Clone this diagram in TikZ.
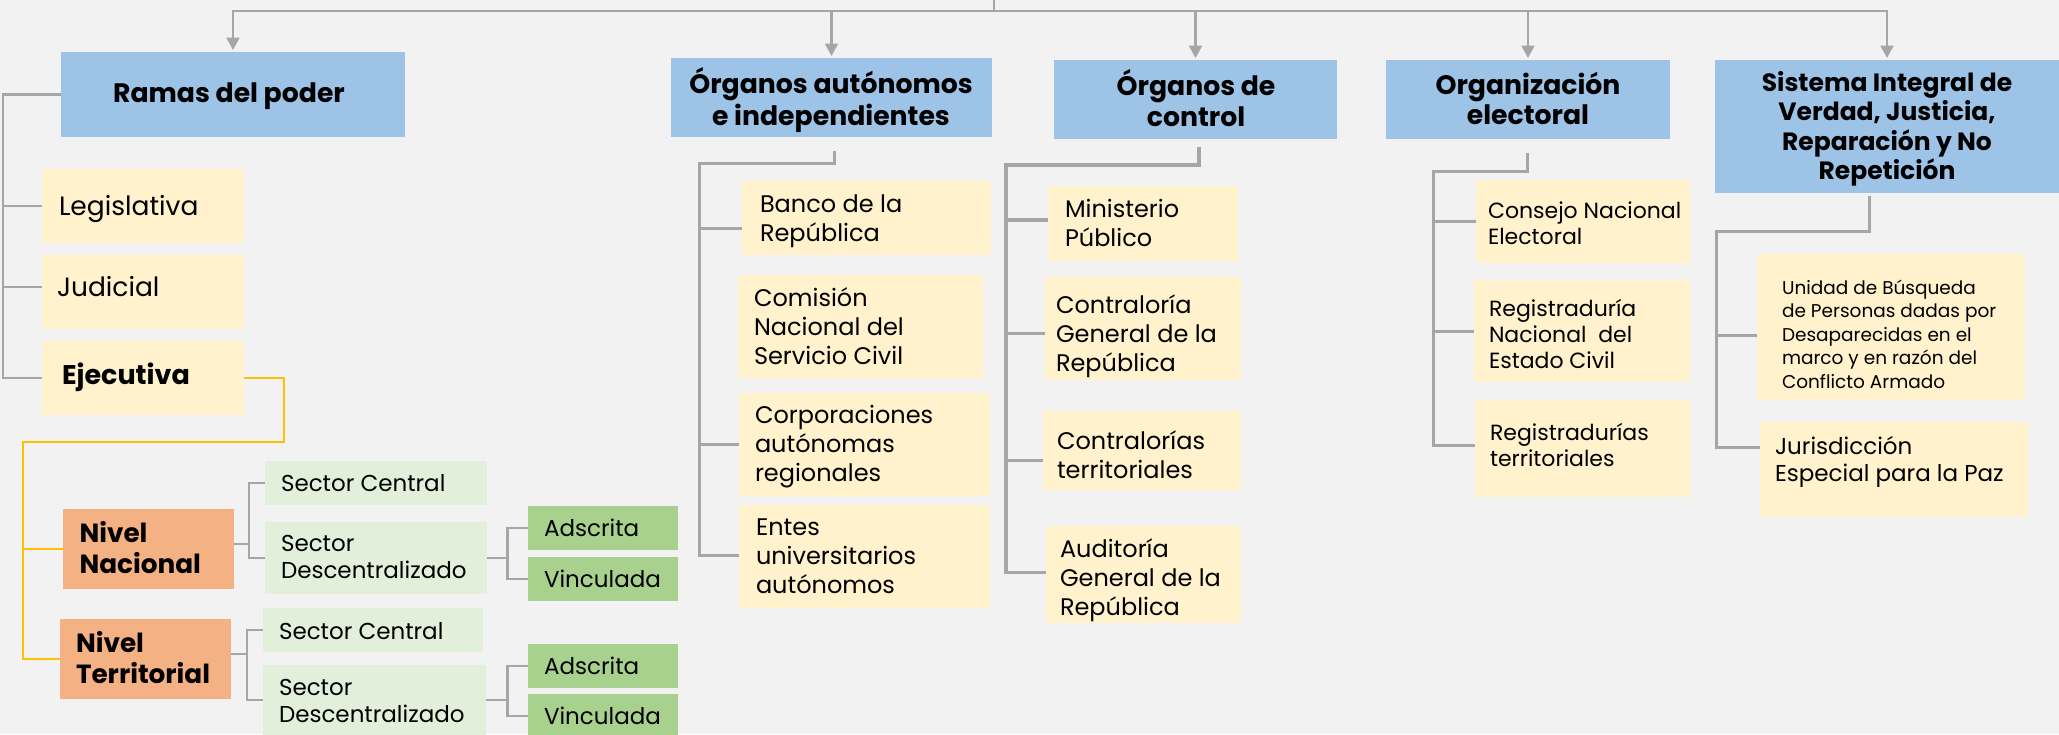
\documentclass[tikz,border=0pt]{standalone}
\usepackage{fontspec}
\setmainfont{Poppins}
\usetikzlibrary{arrows.meta}
\definecolor{bg}{HTML}{F2F2F2}
\definecolor{hblue}{HTML}{9DC3E6}
\definecolor{cream}{HTML}{FFF2CC}
\definecolor{orng}{HTML}{F4B183}
\definecolor{lgreen}{HTML}{E2EFDA}
\definecolor{mgreen}{HTML}{A9D18E}
\definecolor{lgray}{HTML}{A6A6A6}
\definecolor{gold}{HTML}{FFC000}
\begin{document}
\begin{tikzpicture}[x=1pt,y=-1pt,
  bx/.style={inner sep=0pt, outer sep=0pt, anchor=north west, draw=none},
  hbox/.style={bx, fill=hblue},
  cbox/.style={bx, fill=cream},
  obox/.style={bx, fill=orng},
  lgbox/.style={bx, fill=lgreen},
  mgbox/.style={bx, fill=mgreen},
  tx/.style={inner sep=0pt, outer sep=0pt, anchor=west, align=left, yshift=-3.5pt, execute at begin node=\strut, execute at end node=\strut},
  th/.style={inner sep=0pt, outer sep=0pt, anchor=center, align=center, yshift=-3pt, font={\fontsize{26.7}{30}\selectfont\bfseries}, execute at begin node=\strut, execute at end node=\strut},
  fbig/.style={font={\fontsize{24}{29}\selectfont}},
  flarge/.style={font={\fontsize{26.5}{31}\selectfont}},
  fbold/.style={font={\fontsize{26.3}{31}\selectfont\bfseries}},
  fmid/.style={font={\fontsize{23}{27}\selectfont}},
  fsm/.style={font={\fontsize{22}{26}\selectfont}},
  ftiny/.style={font={\fontsize{18.5}{23.6}\selectfont}},
  conn/.style={draw=lgray, line width=2.2pt},
  connb/.style={draw=lgray, line width=3pt},
  connc/.style={draw=lgray, line width=3.5pt},
  yel/.style={draw=gold, line width=2.8pt},
  arr/.style={draw=lgray, line width=2.2pt, -{Triangle[width=13pt,length=12.5pt]}}
]
\useasboundingbox (0,0) rectangle (2059,734);
\clip (0,0) rectangle (2059,734);
\fill[bg] (0,0) rectangle (2059,734);

% ---------- header boxes
\node[hbox, minimum width=344pt, minimum height=85pt] (ramas) at (61,52) {};
\node[hbox, minimum width=321pt, minimum height=79pt] (oa) at (671,58) {};
\node[hbox, minimum width=283pt, minimum height=79pt] (oc) at (1054,60) {};
\node[hbox, minimum width=284pt, minimum height=79pt] (org) at (1386,60) {};
\node[hbox, minimum width=344pt, minimum height=133pt] (sis) at (1715,60) {};

\node[th] (tramas) at (229,93) {Ramas del poder};
\node[th, font={\fontsize{26.7}{32}\selectfont\bfseries}] (toa) at (831,98) {Órganos autónomos\\e independientes};
\node[th, font={\fontsize{26.7}{31}\selectfont\bfseries}] (toc) at (1196,99.5) {Órganos de\\control};
\node[th] (torg) at (1528,100) {Organización\\electoral};
\node[th, font={\fontsize{25}{29.3}\selectfont\bfseries}] (tsis) at (1887,127) {Sistema Integral de\\Verdad, Justicia,\\Reparación y No\\Repetición};

% ---------- Ramas del poder
\node[cbox, minimum width=202pt, minimum height=74pt] (leg) at (42,169) {};
\node[cbox, minimum width=202pt, minimum height=74pt] (jud) at (42,255) {};
\node[cbox, minimum width=202pt, minimum height=74pt] (eje) at (42,341) {};
\node[tx, flarge] (tleg) at (59,206) {Legislativa};
\node[tx, flarge] (tjud) at (57,287) {Judicial};
\node[tx, font={\fontsize{27}{31}\selectfont\bfseries}] (teje) at (62,375) {Ejecutiva};

\node[obox, minimum width=171pt, minimum height=80pt] (nn) at (63,509) {};
\node[obox, minimum width=171pt, minimum height=80pt] (nt) at (60,619) {};
\node[tx, fbold] (tnn) at (79.5,548.5) {Nivel\\Nacional};
\node[tx, fbold] (tnt) at (76,658.5) {Nivel\\Territorial};

\node[lgbox, minimum width=222pt, minimum height=44pt] (sc1) at (265,461) {};
\node[lgbox, minimum width=222pt, minimum height=72pt] (sd1) at (265,522) {};
\node[lgbox, minimum width=220pt, minimum height=44pt] (sc2) at (263,608) {};
\node[lgbox, minimum width=223pt, minimum height=70pt] (sd2) at (263,665) {};
\node[mgbox, minimum width=150pt, minimum height=44pt] (ads1) at (528,506) {};
\node[mgbox, minimum width=150pt, minimum height=44pt] (vin1) at (528,557) {};
\node[mgbox, minimum width=150pt, minimum height=44pt] (ads2) at (528,644) {};
\node[mgbox, minimum width=150pt, minimum height=44pt] (vin2) at (528,694) {};
\node[tx, fmid] (tsc1) at (281,483) {Sector Central};
\node[tx, fmid] (tsd1) at (281,557.5) {Sector\\Descentralizado};
\node[tx, fmid] (tsc2) at (279,631) {Sector Central};
\node[tx, fmid] (tsd2) at (279,701.5) {Sector\\Descentralizado};
\node[tx, fmid] (tads1) at (544,528) {Adscrita};
\node[tx, fmid] (tvin1) at (544,579) {Vinculada};
\node[tx, fmid] (tads2) at (544,666) {Adscrita};
\node[tx, fmid] (tvin2) at (544,716) {Vinculada};

% ---------- Organos autonomos
\node[cbox, minimum width=249pt, minimum height=74pt] (banco) at (742,181) {};
\node[cbox, minimum width=245pt, minimum height=103pt] (cnsc) at (738,275) {};
\node[cbox, minimum width=251pt, minimum height=103pt] (corp) at (739,393) {};
\node[cbox, minimum width=251pt, minimum height=103pt] (entes) at (739,505) {};
\node[tx, fbig] (tbanco) at (760,218.5) {Banco de la\\República};
\node[tx, fbig] (tcnsc) at (754,327) {Comisión\\Nacional del\\Servicio Civil};
\node[tx, fbig] (tcorp) at (755,444.5) {Corporaciones\\autónomas\\regionales};
\node[tx, fbig] (tentes) at (756,556.5) {Entes\\universitarios\\autónomos};

% ---------- Organos de control
\node[cbox, minimum width=190pt, minimum height=75pt] (min) at (1048,186) {};
\node[cbox, minimum width=196pt, minimum height=103pt] (cgr) at (1045,277) {};
\node[cbox, minimum width=198pt, minimum height=79pt] (cts) at (1043,411) {};
\node[cbox, minimum width=195pt, minimum height=97pt] (agr) at (1046,526) {};
\node[tx, fbig] (tmin) at (1065,223.5) {Ministerio\\Público};
\node[tx, fbig] (tcgr) at (1056,333.5) {Contraloría\\General de la\\República};
\node[tx, fbig] (tcts) at (1057,455) {Contralorías\\territoriales};
\node[tx, fbig] (tagr) at (1060,577.5) {Auditoría\\General de la\\República};

% ---------- Organizacion electoral
\node[cbox, minimum width=214pt, minimum height=83pt] (cne) at (1476,180) {};
\node[cbox, minimum width=216pt, minimum height=102pt] (rnec) at (1474,280) {};
\node[cbox, minimum width=215pt, minimum height=97pt] (rterr) at (1475,400) {};
\node[tx, fsm] (tcne) at (1488,224) {Consejo Nacional\\Electoral};
\node[tx, fsm] (trnec) at (1489,334) {Registraduría\\Nacional\ \ del\\Estado Civil};
\node[tx, fsm] (trterr) at (1490,445) {Registradurías\\territoriales};

% ---------- Sistema Integral
\node[cbox, minimum width=268pt, minimum height=146pt] (ubpd) at (1757,254) {};
\node[cbox, minimum width=268pt, minimum height=95pt] (jep) at (1760,422) {};
\node[tx, ftiny] (tubpd) at (1782,334) {Unidad de Búsqueda\\de Personas dadas por\\Desaparecidas en el\\marco y en razón del\\Conflicto Armado};
\node[tx, fmid] (tjep) at (1775,459.5) {Jurisdicción\\Especial para la Paz};

% ---------- top bus
\coordinate (root) at (994,0);
\coordinate (bus) at (994,11);
\draw[conn] (root) -- (bus);
\draw[arr] (bus) -| ([yshift=2pt]ramas.north);
\draw[arr] (bus) -| ([yshift=2pt]oa.north);
\draw[arr] (bus) -| ([yshift=2pt]oc.north);
\draw[arr] (bus) -| ([yshift=2pt]org.north);
\draw[arr] (bus) -| ([yshift=2pt]sis.north);

% ---------- Ramas bracket
\coordinate (rs) at (3,94.5);
\draw[conn] (ramas.west) -- (rs) |- (eje.west);
\draw[conn] (rs |- leg.west) -- (leg.west);
\draw[conn] ([yshift=5pt]jud.west) -- ++(-39,0);

% ---------- Ejecutiva (yellow)
\coordinate (yk) at (284,442);
\coordinate (ysp) at (23,442);
\draw[yel] (eje.east) -| (yk) -- (ysp) |- (nt.west);
\draw[yel] (ysp |- nn.west) -- (nn.west);

% ---------- Nivel connectors
\coordinate (nj) at (249,544);
\draw[conn] ([yshift=5pt]nn.east) -- (nj);
\draw[conn] (sc1.west) -| (nj) |- (sd1.west);
\coordinate (dj1) at (507.5,558);
\draw[conn] (sd1.east) -- (dj1);
\draw[conn] (ads1.west) -| (dj1) |- (vin1.west);

\coordinate (tj) at (247,654);
\draw[conn] ([yshift=5pt]nt.east) -- (tj);
\draw[conn] (sc2.west) -| (tj) |- (sd2.west);
\coordinate (dj2) at (507.5,700);
\draw[conn] (sd2.east) -- (dj2);
\draw[conn] (ads2.west) -| (dj2) |- (vin2.west);

% ---------- Organos autonomos connector
\coordinate (oat) at (834,151);
\coordinate (oac) at (699,163);
\draw[connb] (oat) -- (oat |- oac) -- (oac) |- ([yshift=1.5pt]entes.west);
\draw[connb] ([yshift=-10pt]banco.west) -- ++(-43,0);
\draw[connb] (oac |- corp.west) -- (corp.west);

% ---------- Organos de control connector
\coordinate (oct) at (1199,146.7);
\coordinate (occ) at (1006,165);
\draw[connc] (oct) -- (oct |- occ) -- (occ) |- ([yshift=2pt]agr.west);
\draw[connc] ([yshift=3.5pt]min.west) -- ++(-42,0);
\draw[connc] ([yshift=-5pt]cgr.west) -- ++(-39,0);
\draw[connc] ([yshift=-10pt]cts.west) -- ++(-37,0);

% ---------- Organizacion electoral connector
\coordinate (ort) at (1527,153);
\coordinate (orc) at (1433,171);
\draw[connb] (ort) -- (ort |- orc) -- (orc) |- ([yshift=3.5pt]rterr.west);
\draw[connb] (orc |- cne.west) -- (cne.west);
\draw[connb] (orc |- rnec.west) -- (rnec.west);

% ---------- Sistema connector
\coordinate (sst) at (1869,196);
\coordinate (ssc) at (1716,231);
\draw[connb] (sst) -- (sst |- ssc) -- (ssc) |- ([yshift=22.5pt]jep.west);
\draw[connb] ([yshift=-8pt]ubpd.west) -- ++(-41,0);
\end{tikzpicture}
\end{document}
